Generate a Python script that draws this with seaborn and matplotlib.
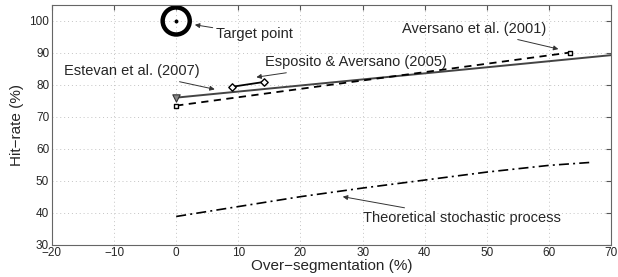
"""Hit-rate vs over-segmentation comparison chart."""

import matplotlib
matplotlib.use("Agg")
import matplotlib.pyplot as plt
import numpy as np
import seaborn as sns

# data
target_x = [0]
target_y = [100]

estevan_x = [0, 70]
estevan_y = [76.0, 89.3]

aversano_x = [0, 63.3]
aversano_y = [73.5, 90.1]

esposito_x = [9.0, 14.1]
esposito_y = [79.4, 80.9]

stochastic_x = [0, 10, 20, 30, 40, 50, 60, 66.5]
stochastic_y = [38.8, 41.9, 45.0, 47.7, 50.2, 52.7, 54.8, 55.7]

x_ticks = list(range(-20, 71, 10))
y_ticks = list(range(30, 101, 10))

sns.set_style("white")
plt.rcParams["font.family"] = ["Liberation Sans", "DejaVu Sans"]

fig = plt.figure(figsize=(6.18, 2.77), dpi=100)
ax = fig.add_axes([0.084, 0.117, 0.905, 0.865])

# lines
sns.lineplot(x=estevan_x, y=estevan_y, ax=ax, color="#444444", linewidth=1.4)
sns.lineplot(x=aversano_x, y=aversano_y, ax=ax, color="black", linewidth=1.3,
             linestyle=(0, (4, 3)))
sns.lineplot(x=esposito_x, y=esposito_y, ax=ax, color="black", linewidth=1.3)
sns.lineplot(x=stochastic_x, y=stochastic_y, ax=ax, color="black", linewidth=1.2,
             linestyle=(0, (6, 2.5, 1.2, 2.5)))

# markers
sns.scatterplot(x=target_x, y=target_y, ax=ax, marker="o", s=380,
                facecolor="none", edgecolor="black", linewidth=3.2)
sns.scatterplot(x=target_x, y=target_y, ax=ax, marker="o", s=8,
                color="black", linewidth=0)
sns.scatterplot(x=estevan_x[:1], y=estevan_y[:1], ax=ax, marker="v", s=28,
                color="#888888", edgecolor="#333333", linewidth=0.8, zorder=4)
sns.scatterplot(x=aversano_x, y=aversano_y, ax=ax, marker="s", s=10,
                facecolor="white", edgecolor="black", linewidth=1.0, zorder=4)
sns.scatterplot(x=esposito_x, y=esposito_y, ax=ax, marker="D", s=14,
                facecolor="white", edgecolor="black", linewidth=1.0, zorder=4)

# annotations
arrow = dict(arrowstyle="-|>", color="#333333", lw=0.7, mutation_scale=7,
             shrinkA=0, shrinkB=0)
ax.annotate("Target point", xy=(3.0, 98.8), xytext=(6.4, 95.8),
            fontsize=10.5, va="center", ha="left", arrowprops=arrow)
ax.annotate("Estevan et al. (2007)", xy=(6.2, 78.6), xytext=(3.8, 84.2),
            fontsize=10.5, va="center", ha="right", arrowprops=arrow)
ax.annotate("Esposito & Aversano (2005)", xy=(12.9, 82.4), xytext=(14.3, 87.0),
            fontsize=10.5, va="center", ha="left", arrowprops=arrow)
ax.annotate("Aversano et al. (2001)", xy=(61.5, 91.2), xytext=(59.5, 97.4),
            fontsize=10.5, va="center", ha="right", arrowprops=arrow)
ax.annotate("Theoretical stochastic process", xy=(26.8, 45.0), xytext=(30.0, 38.3),
            fontsize=10.5, va="center", ha="left", arrowprops=arrow)

ax.set_xlim(-20, 70)
ax.set_ylim(30, 105)
ax.set_xticks(x_ticks)
ax.set_yticks(y_ticks)
ax.set_xticklabels([str(t).replace("-", "\u2212") for t in x_ticks], fontsize=8.5)
ax.set_yticklabels([str(t) for t in y_ticks], fontsize=8.5)
ax.tick_params(direction="in", length=3.5, top=True, right=True, color="#555555",
               pad=2)
ax.grid(True, linestyle=(0, (1, 3)), color="#c4c4c4", linewidth=0.7)
for spine in ax.spines.values():
    spine.set_color("#666666")
    spine.set_linewidth(0.8)

ax.set_xlabel("Over\u2212segmentation (%)", fontsize=11, labelpad=0)
ax.set_ylabel("Hit\u2212rate (%)", fontsize=11, labelpad=4)

fig.savefig("out.png", dpi=100)
plt.close(fig)
